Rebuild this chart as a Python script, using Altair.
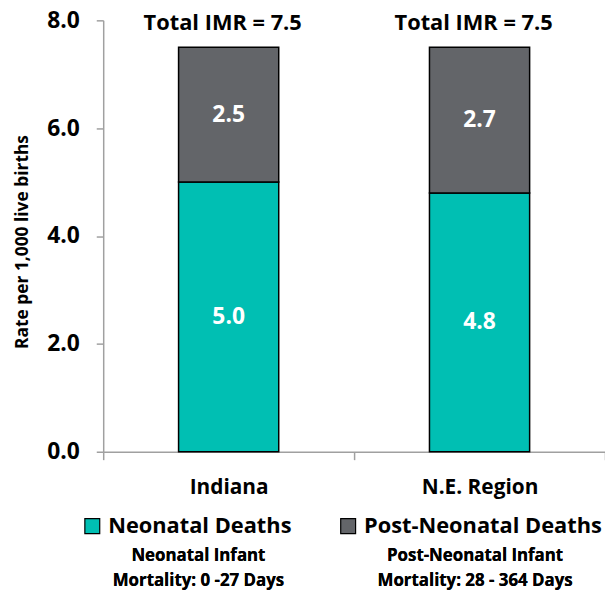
import altair as alt
import pandas as pd

regions = ["Indiana", "N.E. Region"]
neonatal = [5.0, 4.8]
post_neonatal = [2.5, 2.7]
totals = [7.5, 7.5]
series = ["Neonatal Deaths", "Post-Neonatal Deaths"]
colors = ["#00BFB3", "#636569"]
y_ticks = [0, 2, 4, 6, 8]
sub_neonatal = ["Neonatal Infant", "Mortality: 0 -27 Days"]
sub_post = ["Post-Neonatal Infant", "Mortality: 28 - 364 Days"]

FONT = "Open Sans"
AXIS_GRAY = "#A0A0A0"

rows = []
for r, n, p in zip(regions, neonatal, post_neonatal):
    rows.append(dict(region=r, series=series[0], start=0.0, end=n, value=n, order=0))
    rows.append(dict(region=r, series=series[1], start=n, end=n + p, value=p, order=1))
df = pd.DataFrame(rows)
df["mid"] = (df["start"] + df["end"]) / 2

tot_df = pd.DataFrame({"region": regions, "total": totals})
tot_df["label"] = ["Total IMR = %.1f" % t for t in totals]

x_enc = alt.X(
    "region:N",
    sort=regions,
    scale=alt.Scale(paddingInner=0, paddingOuter=0),
    axis=alt.Axis(
        title=None,
        labelAngle=0,
        labelFont=FONT,
        labelFontSize=21,
        labelFontWeight="bold",
        labelColor="black",
        labelPadding=17,
        tickBand="extent",
        tickSize=8,
        tickColor=AXIS_GRAY,
        tickWidth=1.5,
        domainColor=AXIS_GRAY,
        domainWidth=1.5,
    ),
)

y_scale = alt.Scale(domain=[0, 8], nice=False)

bars = alt.Chart(df).mark_bar(size=101, stroke="black", strokeWidth=1.5).encode(
    x=x_enc,
    y=alt.Y(
        "start:Q",
        scale=y_scale,
        axis=alt.Axis(
            values=y_ticks,
            format=".1f",
            grid=False,
            labelFont=FONT,
            labelFontSize=23,
            labelFontWeight="bold",
            labelColor="black",
            labelPadding=17,
            tickSize=7,
            tickColor=AXIS_GRAY,
            tickWidth=1.5,
            domainColor=AXIS_GRAY,
            domainWidth=1.5,
            title="Rate per 1,000 live births",
            titleFont=FONT,
            titleFontSize=17.5,
            titleFontWeight="bold",
            titleColor="black",
            titleX=-81,
            titleY=223,
            titleAngle=270,
            titleAlign="center",
            titleBaseline="middle",
        ),
    ),
    y2="end:Q",
    color=alt.Color(
        "series:N",
        scale=alt.Scale(domain=series, range=colors),
        legend=alt.Legend(
            title=None,
            orient="none",
            legendX=-22,
            legendY=499,
            direction="horizontal",
            symbolType="square",
            symbolSize=225,
            symbolStrokeColor="black",
            symbolStrokeWidth=1.2,
            labelFont=FONT,
            labelFontSize=22,
            labelFontWeight="bold",
            labelColor="black",
            labelOffset=5,
            columnPadding=45,
            labelLimit=400,
        ),
    ),
    order=alt.Order("order:Q"),
)

values = alt.Chart(df).mark_text(
    color="white", font=FONT, fontWeight="bold", fontSize=23, baseline="middle"
).encode(
    x=alt.X("region:N", sort=regions),
    y=alt.Y("mid:Q", scale=y_scale),
    text=alt.Text("value:Q", format=".1f"),
)

tots = alt.Chart(tot_df).mark_text(
    color="black", font=FONT, fontWeight="bold", fontSize=22, baseline="middle",
    dy=-24, dx=-6,
).encode(
    x=alt.X("region:N", sort=regions),
    y=alt.Y("total:Q", scale=y_scale),
    text="label:N",
)

sub1 = alt.Chart(tot_df).mark_text(
    color="black", font=FONT, fontWeight="bold", fontSize=17, baseline="middle",
    align="center", lineHeight=25,
).encode(x=alt.value(96), y=alt.value(540), text=alt.value(sub_neonatal))

sub2 = alt.Chart(tot_df).mark_text(
    color="black", font=FONT, fontWeight="bold", fontSize=17, baseline="middle",
    align="center", lineHeight=25,
).encode(x=alt.value(375), y=alt.value(540), text=alt.value(sub_post))

chart = alt.layer(bars, values, tots, sub1, sub2).properties(
    width=506,
    height=435,
    autosize=alt.AutoSizeParams(type="none"),
    padding={"left": 96, "top": 10, "right": 0, "bottom": 140},
).configure_view(stroke=None)

chart.save("out.html", embed_options={"renderer": "svg", "actions": False})
